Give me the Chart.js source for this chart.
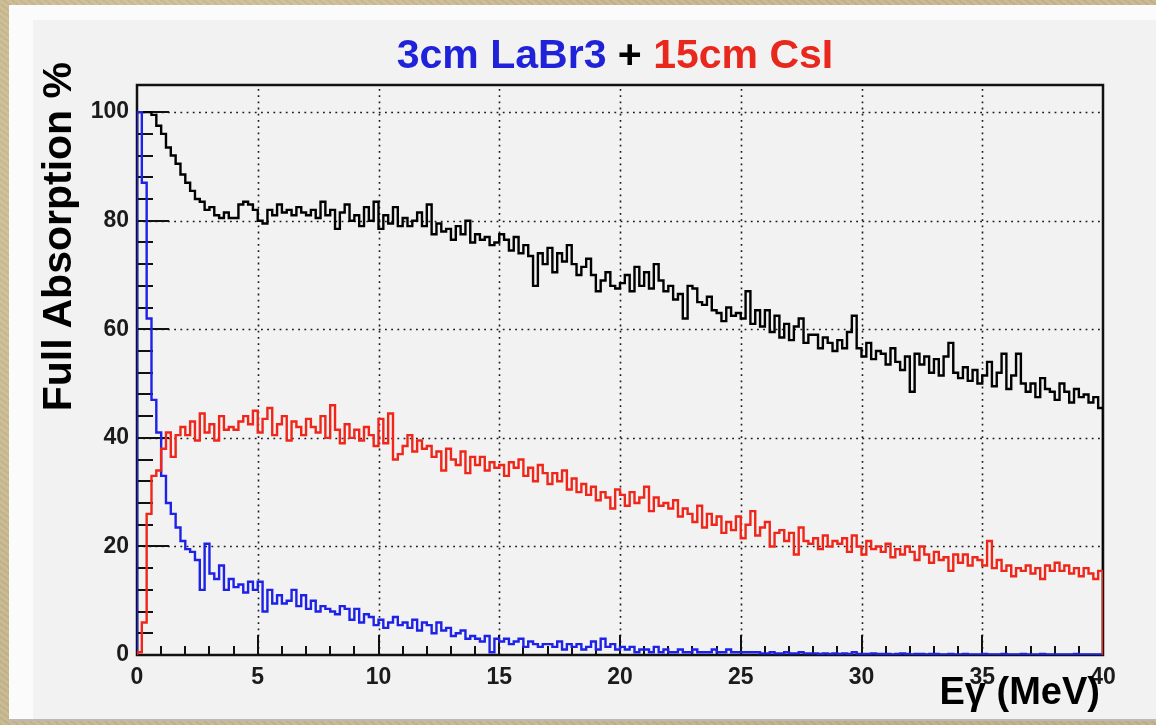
<!DOCTYPE html>
<html>
<head>
<meta charset="utf-8">
<script src="https://cdn.jsdelivr.net/npm/chart.js@4.4.1/dist/chart.umd.min.js"></script>
<style>
  html, body { margin:0; padding:0; }
  body {
    width:1156px; height:725px; overflow:hidden; position:relative;
    background:#c7b78e;
    background-image:
      radial-gradient(circle at 20% 30%, rgba(255,245,210,0.25) 0, rgba(255,245,210,0) 40%),
      radial-gradient(circle at 80% 70%, rgba(120,100,60,0.18) 0, rgba(120,100,60,0) 45%),
      repeating-linear-gradient(37deg, rgba(90,70,40,0.06) 0 2px, rgba(255,255,255,0.05) 2px 5px);
    font-family: "Liberation Sans", Arial, Helvetica, sans-serif;
  }
  #panel {
    position:absolute; left:9px; top:5px; right:0; height:714px;
    background:#fbfbfb; border-bottom:2px solid #b9b9b9;
  }
  #inner {
    position:absolute; left:24px; top:15px; right:0; bottom:0;
    background:#f2f2f2;
  }
  canvas#c { position:absolute; left:0; top:0; }
  .ttl { position:absolute; font-weight:bold; white-space:nowrap; line-height:1; }
  #title { left:0; top:34px; width:1230px; text-align:center; font-size:41px; color:#000; }
  #ytitle { left:37px; top:562px; width:500px; text-align:right; font-size:41px;
            transform-origin:0 0; transform:rotate(-90deg); color:#000; }
  #xtitle { left:700px; top:672px; width:400px; text-align:right; font-size:38px; color:#000; }
</style>
</head>
<body>
<div id="panel"><div id="inner"></div></div>
<canvas id="c" width="1156" height="725"></canvas>
<div class="ttl" id="title"><span style="color:#1f22d8">3cm LaBr3</span> + <span style="color:#e8271d">15cm CsI</span></div>
<div class="ttl" id="ytitle">Full Absorption %</div>
<div class="ttl" id="xtitle">Eγ (MeV)</div>
<script>
// ---- axis definitions ----
const X_MIN = 0, X_MAX = 40, BIN_WIDTH = 0.2;
const Y_MIN = 0, Y_MAX = 105;
const X_TICKS = [0, 5, 10, 15, 20, 25, 30, 35, 40];
const Y_TICKS = [0, 20, 40, 60, 80, 100];

// ---- series: full absorption % per 0.2 MeV bin (0 .. 40 MeV) ----
const total = [
  100, 100, 100, 99.5, 97.5,
  96, 93.5, 92, 90.5, 88.5,
  87, 85.5, 84, 83.5, 82,
  82.5, 81, 80.5, 81.5, 80.5,
  80.5, 83, 83.5, 83, 82,
  80, 79.5, 82, 81, 83,
  81.5, 82, 81, 82.5, 81.5,
  81, 82, 80.5, 83.5, 81,
  82, 78.5, 81.5, 83, 80,
  81, 79, 82.5, 80, 83.5,
  78.5, 81, 79.5, 82.5, 79,
  80.5, 79, 80, 81.5, 79,
  83, 77.5, 79.5, 78, 78.5,
  76.5, 79, 77.5, 80, 76,
  77.5, 76.5, 77, 75.5, 76,
  77.5, 76.5, 74.5, 77, 74,
  75.5, 73.5, 68, 74, 72,
  75, 70.5, 74, 72.5, 75.5,
  72, 70, 71.5, 73, 70,
  67, 69, 70.5, 68, 67.5,
  68.5, 70, 67, 71.5, 68,
  70.5, 67.5, 72, 69, 67,
  68, 65.5, 66.5, 62, 68,
  67.5, 65, 64.5, 66, 63.5,
  63, 61.5, 64, 62.5, 63,
  62, 67, 61, 63.5, 60.5,
  63.5, 59.5, 62.5, 58.5, 61,
  58, 60.5, 62, 57.5, 59,
  59, 56.5, 58.5, 57.5, 56,
  58, 56.5, 59.5, 62.5, 56.5,
  55, 57.5, 54.5, 56, 55.5,
  53.5, 56.5, 54, 52.5, 55,
  48.5, 55.5, 53.5, 55, 52,
  54.5, 51.5, 55, 57.5, 52,
  51, 53, 50.5, 52.5, 50,
  51.5, 54, 49.5, 52, 55.5,
  49, 51.5, 55.5, 50, 48.5,
  50, 47.5, 51, 49, 48.5,
  47, 50, 48.5, 46.5, 49,
  47.5, 48, 46.5, 47.5, 45.5
];
const csi = [
  0.5, 6, 26, 33, 34,
  38, 41, 36.5, 40.5, 42,
  40.5, 43, 39.5, 44.5, 41,
  42.5, 39.5, 44, 41.5, 42,
  41.5, 43, 44, 42.5, 45,
  41, 43.5, 45.5, 40.5, 42.5,
  44, 39.5, 43, 42, 40.5,
  43.5, 42, 41, 44, 40,
  46, 41.5, 39, 42.5, 40,
  41.5, 39.5, 42, 40.5, 38.5,
  43.5, 39, 44.5, 36, 37,
  38.5, 40.5, 37.5, 39.5, 38,
  38.5, 36.5, 37.5, 34, 38,
  36, 35, 37.5, 33.5, 36.5,
  35, 36.5, 34, 35.5, 34.5,
  35, 33, 35.5, 34.5, 36,
  33, 34.5, 32, 35, 33.5,
  31.5, 33.5, 32, 34, 30.5,
  32.5, 30, 31.5, 29.5, 31,
  28.5, 30, 29, 27, 30.5,
  29.5, 27.5, 30, 28, 29,
  31, 26.5, 29, 27.5, 28,
  27, 28.5, 25.5, 27, 26,
  24.5, 27.5, 23.5, 26, 24,
  25.5, 22.5, 24.5, 23, 25.5,
  21.5, 24, 26.5, 22, 23.5,
  24.5, 20, 22.5, 23, 21,
  22.5, 18.5, 23.5, 21, 20.5,
  21.5, 19.5, 22, 20, 21,
  20.5, 21.5, 19, 22, 20,
  18.5, 21, 19.5, 20, 19,
  20.5, 18, 19.5, 18.5, 20,
  19, 17.5, 20, 18.5, 17,
  19, 17.5, 18, 15.5, 18.5,
  17, 18.5, 16.5, 18, 17.5,
  16.5, 21, 16, 17.5, 15.5,
  16.5, 14.5, 16, 15.5, 16.5,
  15, 16, 14, 16.5, 15.5,
  17, 15.5, 16.5, 15, 16,
  14.5, 16, 15, 14, 15.5
];
const labr = [
  100, 87, 62, 47, 41,
  33, 28, 26, 23.5, 21,
  19.5, 19, 17.5, 12, 20.5,
  15, 14, 16.5, 12, 14,
  12.5, 13, 11.5, 13.5, 12,
  13.5, 8, 12, 9.5, 11,
  9.5, 10, 12, 9, 11,
  8.5, 10, 8, 9, 8.5,
  8, 7.5, 9, 8.5, 6.5,
  8.5, 6, 7.5, 7, 5.5,
  6.5, 5, 6, 7, 5.5,
  6, 5, 6.5, 4.5, 6,
  5.5, 4, 6, 4.5, 5,
  3.5, 4, 4.5, 3, 3.5,
  3, 2.5, 3.5, 0.5, 3,
  2.5, 3, 2, 2.5, 3,
  1.5, 2.5, 2, 1.5, 2,
  2, 1.5, 2.5, 1, 2,
  1.5, 2, 1, 1.5, 2.5,
  1, 3, 1.5, 2, 1,
  1.5, 1, 1.5, 0.5, 1,
  1, 0.5, 1.5, 0.5, 1,
  0.5, 0.5, 1, 0.5, 0.5,
  1, 0.5, 0.5, 0.5, 1,
  0.5, 0.5, 1, 0.5, 0.5,
  0.5, 0.5, 0.5, 0.5, 0.3,
  0.3, 0.5, 0.3, 0.3, 0.5,
  0.3, 0.3, 0.5, 0.3, 0.3,
  0.3, 0.2, 0.3, 0.2, 0.3,
  0.2, 0.3, 0.2, 0.5, 0.2,
  0.2, 0.2, 0.3, 0.2, 0.2,
  0.2, 0.1, 0.2, 0.3, 0.2,
  0.1, 0.2, 0.2, 0.1, 0.2,
  0.2, 0.1, 0.1, 0.2, 0.1,
  0.1, 0.2, 0.1, 0.1, 0.1,
  0.2, 0.1, 0.1, 0.1, 0.2,
  0.1, 0.1, 0.1, 0.2, 0.1,
  0.1, 0.1, 0.2, 0.1, 0.1,
  0.1, 0.1, 0.1, 0.1, 0.2,
  0.1, 0.1, 0.1, 0.1, 0.1
];

// histogram outline: rise at the low edge, one point per bin low edge, drop at the high edge
function histPoints(vals) {
  const pts = [{x: X_MIN, y: 0}];
  vals.forEach((v, i) => pts.push({x: X_MIN + i * BIN_WIDTH, y: v}));
  pts.push({x: X_MAX, y: vals[vals.length - 1]});
  pts.push({x: X_MAX, y: 0});
  return pts;
}

const framePlugin = {
  id: 'rootFrame',
  beforeDatasetsDraw(chart) {
    const {ctx, chartArea: a, scales: {x, y}} = chart;
    ctx.save();
    // dotted grid
    ctx.strokeStyle = '#1a1a1a';
    ctx.lineWidth = 1.6;
    ctx.setLineDash([1.8, 4.4]);
    X_TICKS.forEach(v => {
      if (v <= X_MIN || v >= X_MAX) return;
      const px = Math.round(x.getPixelForValue(v)) + 0.5;
      ctx.beginPath(); ctx.moveTo(px, a.bottom); ctx.lineTo(px, a.top); ctx.stroke();
    });
    Y_TICKS.forEach(v => {
      if (v <= Y_MIN) return;
      const py = Math.round(y.getPixelForValue(v)) + 0.5;
      ctx.beginPath(); ctx.moveTo(a.left, py); ctx.lineTo(a.right, py); ctx.stroke();
    });
    ctx.setLineDash([]);
    // ticks (inward)
    ctx.strokeStyle = '#111';
    ctx.lineWidth = 2;
    for (let v = X_MIN; v <= X_MAX; v += 1) {
      const px = Math.round(x.getPixelForValue(v));
      const len = (v % 5 === 0) ? 20 : 9;
      ctx.beginPath(); ctx.moveTo(px, a.bottom); ctx.lineTo(px, a.bottom - len); ctx.stroke();
    }
    for (let v = Y_MIN; v <= 100; v += 4) {
      const py = Math.round(y.getPixelForValue(v));
      const len = (v % 20 === 0) ? 32 : 16;
      ctx.beginPath(); ctx.moveTo(a.left, py); ctx.lineTo(a.left + len, py); ctx.stroke();
    }
    // frame
    ctx.strokeStyle = '#111';
    ctx.lineWidth = 2.5;
    ctx.strokeRect(a.left, a.top, a.right - a.left, a.bottom - a.top);
    ctx.restore();
  }
};

new Chart(document.getElementById('c'), {
  type: 'line',
  data: {
    datasets: [
      { label: '15cm CsI', data: histPoints(csi), borderColor: '#f0261a' },
      { label: '3cm LaBr3', data: histPoints(labr), borderColor: '#1d22e6' },
      { label: 'LaBr3 + CsI', data: histPoints(total), borderColor: '#000000' }
    ]
  },
  options: {
    responsive: false,
    animation: false,
    parsing: true,
    datasets: { line: { stepped: 'before', borderWidth: 2.4, pointRadius: 0, tension: 0, fill: false } },
    layout: { padding: { left: 0, right: 53, top: 85, bottom: 0 } },
    plugins: { legend: { display: false }, tooltip: { enabled: false }, title: { display: false } },
    scales: {
      x: {
        type: 'linear', min: X_MIN, max: X_MAX,
        afterFit(s) { s.height = 70; },
        grid: { display: false, drawTicks: false },
        border: { display: false },
        ticks: { stepSize: 5, autoSkip: false, maxRotation: 0, padding: 9, color: '#1b1b1b',
                 font: { family: '"Liberation Sans", Arial, sans-serif', size: 23, weight: 'bold' } }
      },
      y: {
        type: 'linear', min: Y_MIN, max: Y_MAX,
        afterFit(s) { s.width = 137; },
        grid: { display: false, drawTicks: false },
        border: { display: false },
        ticks: { stepSize: 20, includeBounds: false, autoSkip: false, padding: 8, color: '#1b1b1b',
                 font: { family: '"Liberation Sans", Arial, sans-serif', size: 23, weight: 'bold' } }
      }
    }
  },
  plugins: [framePlugin]
});
</script>
</body>
</html>
